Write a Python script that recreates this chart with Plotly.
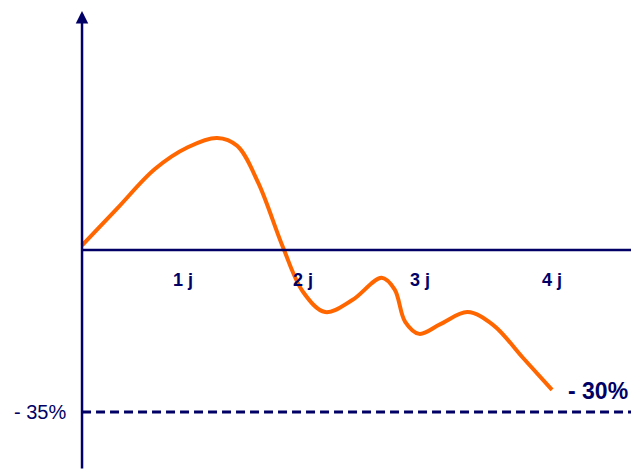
import plotly.graph_objects as go

# curve, x in days, y in percent
curve_x = [0.0, 0.3, 0.62, 0.9, 1.15, 1.32, 1.5, 1.71, 1.88, 2.07, 2.3,
           2.55, 2.66, 2.75, 2.87, 3.05, 3.28, 3.5, 3.75, 4.0]
curve_y = [1.0, 9.0, 17.5, 22.2, 24.2, 22.5, 14.5, 0.6, -9.0, -13.4, -10.8,
           -6.0, -8.5, -15.5, -18.1, -16.0, -13.4, -16.2, -23.2, -30.2]

day_labels = ["1 j", "2 j", "3 j", "4 j"]
day_pos = [0.86, 1.88, 2.88, 4.0]

floor_value = -35
floor_label = "- 35%"
end_label = "- 30%"

NAVY = "#000066"
ORANGE = "#ff6600"
FONT = "Arial, Liberation Sans, sans-serif"

# page has an 8px body margin, so the figure starts 8px in
X_MIN, X_MAX = -0.630, 4.74
Y_MIN, Y_MAX = -47.5, 52.27

fig = go.Figure()

fig.add_trace(
    go.Scatter(
        x=curve_x,
        y=curve_y,
        mode="lines",
        line=dict(color=ORANGE, width=4, shape="spline", smoothing=1.0),
        hoverinfo="skip",
        showlegend=False,
    )
)

# horizontal axis at 0 and dashed floor
fig.add_shape(type="line", x0=0, x1=X_MAX, y0=0, y1=0,
              line=dict(color=NAVY, width=2.5))
fig.add_shape(type="line", x0=0, x1=X_MAX, y0=floor_value, y1=floor_value,
              line=dict(color=NAVY, width=3, dash="9px,5px"))

# vertical axis with arrow
fig.add_annotation(
    x=0, y=51.6, ax=0, ay=Y_MIN, xref="x", yref="y", axref="x", ayref="y",
    showarrow=True, arrowhead=2, arrowsize=1, arrowwidth=2.5, arrowcolor=NAVY,
    text="",
)

for lab, pos in zip(day_labels, day_pos):
    fig.add_annotation(x=pos, y=-6.5, text=f"<b>{lab}</b>", showarrow=False,
                       font=dict(family=FONT, size=18, color=NAVY))

fig.add_annotation(x=-0.357, y=floor_value, text=floor_label, showarrow=False,
                   font=dict(family=FONT, size=20, color=NAVY))
fig.add_annotation(x=4.39, y=-30.5, text=f"<b>{end_label}</b>", showarrow=False,
                   font=dict(family=FONT, size=23, color=NAVY))

fig.update_xaxes(range=[X_MIN, X_MAX], visible=False)
fig.update_yaxes(range=[Y_MIN, Y_MAX], visible=False)

fig.update_layout(
    width=631,
    height=462,
    margin=dict(l=0, r=0, t=0, b=0),
    plot_bgcolor="white",
    paper_bgcolor="white",
)

fig.write_html("out.html", config={"responsive": False})
